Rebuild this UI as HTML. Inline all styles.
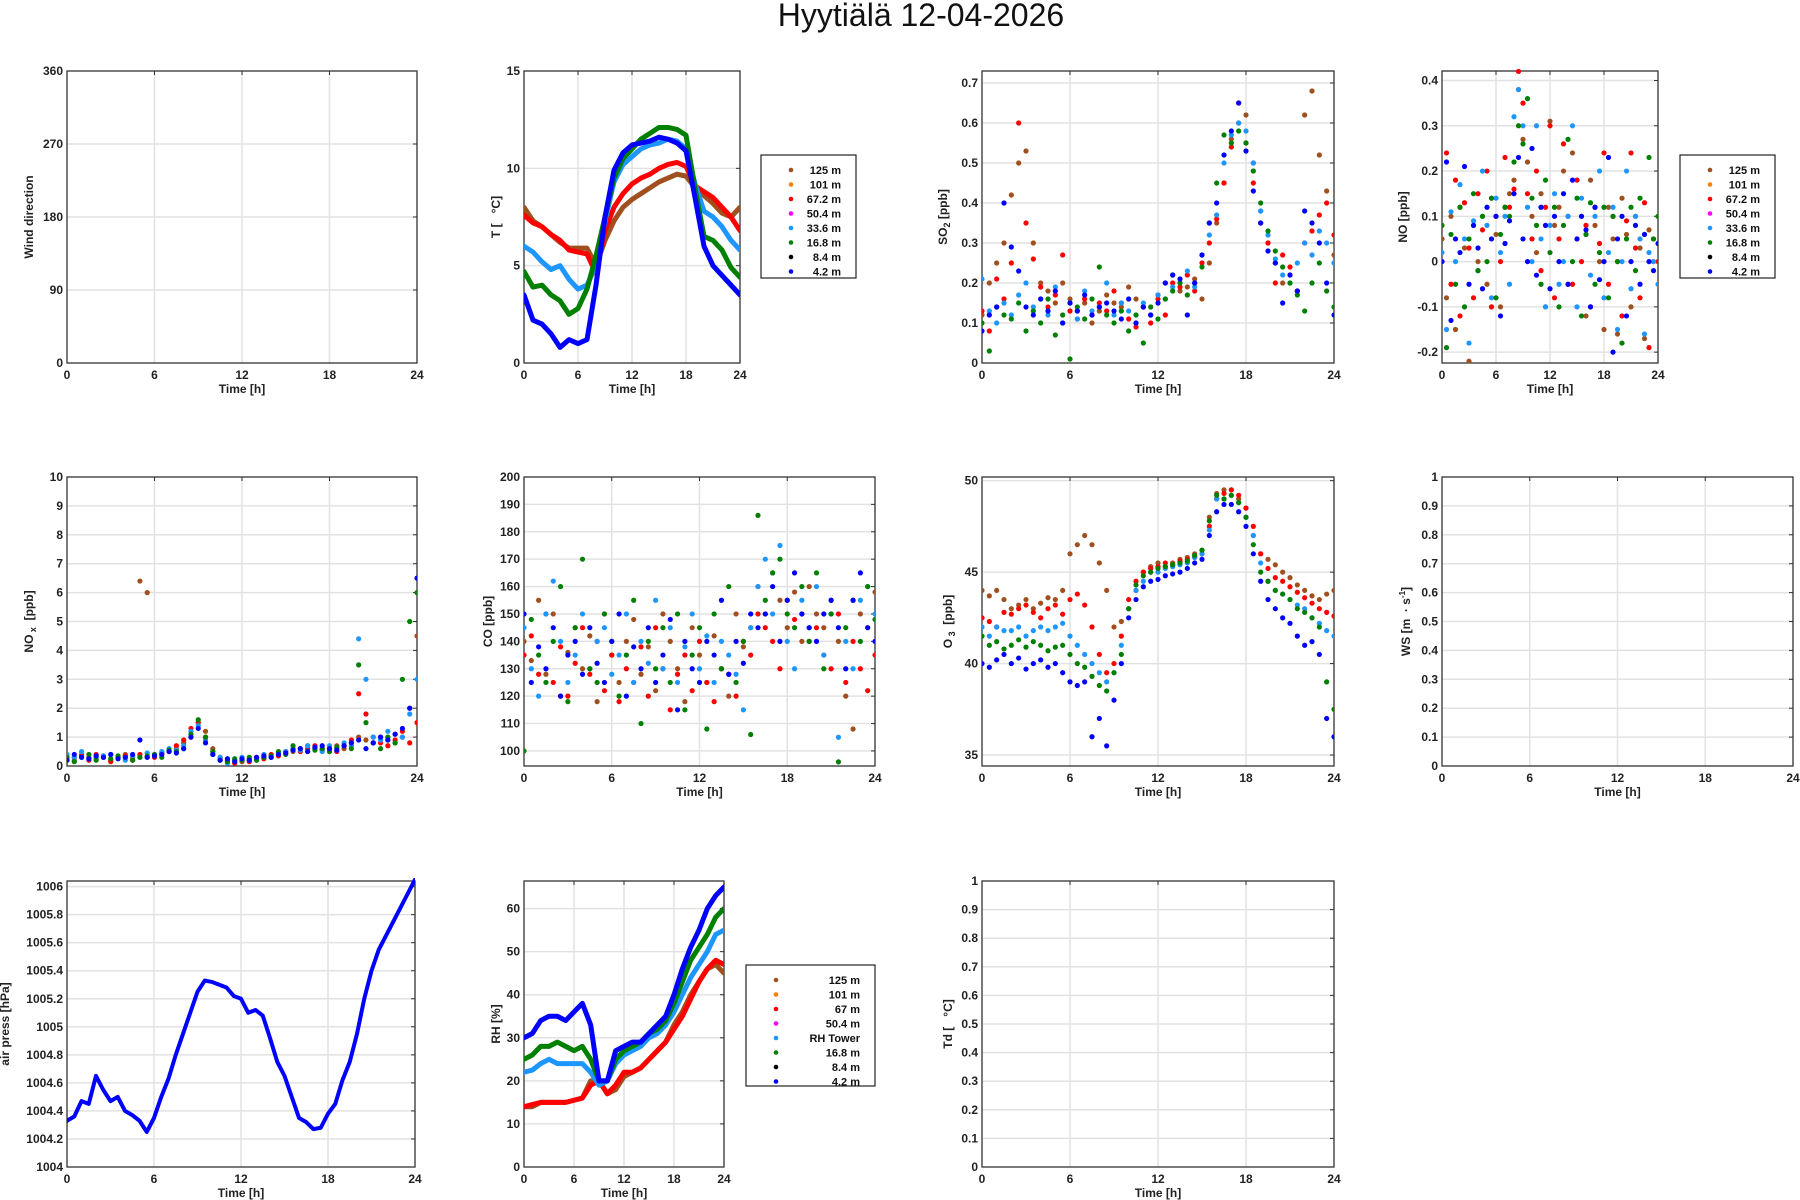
<!DOCTYPE html>
<html><head><meta charset="utf-8">
<style>
body{margin:0;background:#fff;}
svg{display:block;font-family:"Liberation Sans",Arial,sans-serif;}
.tk{font-size:12px;font-weight:bold;fill:#222;}
.lb{font-size:12px;font-weight:bold;fill:#222;}
.lg{font-size:11px;font-weight:bold;fill:#111;}
</style></head>
<body>
<svg id="chart" width="1800" height="1200" viewBox="0 0 1800 1200">
<text x="921" y="26" text-anchor="middle" font-size="32" fill="#111">Hyytiälä 12-04-2026</text>
</svg>
<script>
const hours=[0,6,12,18,24];
const C={b125:'#a0501e',o101:'#ff8000',r67:'#ff0000',m50:'#ff00ff',lb33:'#1e96ff',g16:'#008000',k8:'#000000',bl4:'#0000ff'};
// Temperature (hourly)
const tBrown=[8,7.3,7,6.6,6.2,5.9,5.9,5.9,5.0,6.3,7.3,8,8.4,8.7,9,9.3,9.5,9.7,9.6,9,8.6,8.2,7.7,7.5,8];
const tRed=[7.6,7.2,7,6.6,6.3,5.8,5.7,5.6,4.6,6.8,8,8.7,9.2,9.5,9.7,10,10.2,10.3,10.1,9.1,8.8,8.5,8.0,7.5,6.8];
const tLblue=[6,5.7,5.2,4.8,5.0,4.3,3.8,4.0,5.0,7.3,9.3,10.2,10.6,11,11.2,11.3,11.5,11.4,11,9.2,7.8,7.5,7.0,6.3,5.8];
const tGreen=[4.7,3.9,4.0,3.5,3.2,2.5,2.8,3.8,5.5,7.5,9.5,10.5,11,11.5,11.8,12.1,12.1,12.0,11.7,9,6.5,6.3,5.8,4.9,4.4];
const tBlue=[3.5,2.2,2.0,1.5,0.8,1.2,1.0,1.2,4,7.5,9.9,10.8,11.2,11.3,11.4,11.6,11.5,11.3,10.9,8.5,6,5.0,4.5,4.0,3.5];
// RH (hourly)
const rhBrown=[14,14,15,15,15,15,15.5,16,20,20,17,18,21,22,23,25,27,29,33,36,40,43,46,47,45];
const rhRed=[14,14.5,15,15,15,15,15.5,16,19,20,17,19,22,22,23,25,27,29,32,35,39,43,46,48,47];
const rhLblue=[22,22.5,24,25,24,24,24,24,22,19,20,24,26,27,28,30,31,33,36,40,44,47,50,54,55];
const rhGreen=[25,26,28,28,29,28,27,28,25,20,20,25,27,28,29,31,32,34,38,43,48,51,54,58,60];
const rhBlue=[30,31,34,35,35,34,36,38,33,20,20,27,28,29,29,31,33,35,40,46,51,55,60,63,65];
// Pressure (half-hourly)
const pres=[1004.33,1004.36,1004.47,1004.45,1004.65,1004.55,1004.47,1004.50,1004.40,1004.37,1004.33,1004.25,1004.35,1004.50,1004.63,1004.8,1004.95,1005.10,1005.25,1005.33,1005.32,1005.30,1005.28,1005.22,1005.20,1005.10,1005.12,1005.08,1004.92,1004.75,1004.65,1004.5,1004.35,1004.32,1004.27,1004.28,1004.38,1004.45,1004.62,1004.75,1004.95,1005.2,1005.4,1005.55,1005.65,1005.75,1005.85,1005.95,1006.05];
// SO2 (half-hourly)
const so2Brown=[0.12,0.2,0.25,0.3,0.42,0.5,0.53,0.3,0.2,0.18,0.15,0.2,0.16,0.13,0.15,0.1,0.13,0.17,0.15,0.14,0.19,0.16,0.14,0.12,0.17,0.2,0.22,0.18,0.19,0.21,0.16,0.25,0.35,0.45,0.56,0.6,0.62,0.5,0.38,0.3,0.25,0.2,0.22,0.18,0.62,0.68,0.52,0.43,0.27];
const so2Red=[0.13,0.08,0.21,0.16,0.25,0.6,0.35,0.26,0.19,0.14,0.17,0.27,0.13,0.11,0.16,0.12,0.15,0.13,0.18,0.15,0.11,0.09,0.14,0.1,0.16,0.12,0.2,0.19,0.22,0.18,0.25,0.3,0.36,0.45,0.54,0.65,0.55,0.45,0.35,0.3,0.2,0.27,0.24,0.18,0.3,0.33,0.37,0.4,0.32];
const so2Lblue=[0.21,0.13,0.1,0.15,0.12,0.17,0.2,0.14,0.16,0.12,0.19,0.1,0.15,0.11,0.18,0.13,0.14,0.2,0.12,0.15,0.13,0.1,0.15,0.12,0.17,0.16,0.19,0.2,0.23,0.19,0.27,0.32,0.37,0.5,0.57,0.6,0.58,0.5,0.38,0.32,0.26,0.22,0.2,0.25,0.3,0.27,0.33,0.3,0.25];
const so2Green=[0.1,0.03,0.14,0.12,0.11,0.15,0.08,0.13,0.1,0.16,0.07,0.12,0.01,0.14,0.11,0.16,0.24,0.12,0.1,0.13,0.08,0.12,0.05,0.14,0.11,0.16,0.18,0.2,0.17,0.2,0.24,0.35,0.45,0.57,0.55,0.58,0.55,0.48,0.4,0.33,0.28,0.24,0.2,0.17,0.13,0.2,0.25,0.18,0.14];
const so2Blue=[0.08,0.12,0.14,0.4,0.29,0.23,0.14,0.12,0.16,0.13,0.18,0.1,0.15,0.13,0.17,0.12,0.14,0.15,0.13,0.11,0.16,0.1,0.14,0.12,0.15,0.2,0.22,0.21,0.12,0.2,0.27,0.35,0.4,0.52,0.58,0.65,0.53,0.43,0.35,0.28,0.25,0.15,0.22,0.18,0.38,0.35,0.3,0.2,0.12];
// NO (half-hourly)
const noBrown=[0.05,-0.08,0.1,-0.15,0.12,0.03,-0.22,0.08,0.0,0.1,-0.05,0.14,0.06,-0.1,0.12,0.15,0.18,0.38,0.27,0.22,0.1,0.02,0.15,-0.1,0.31,0.08,0.12,0.2,-0.05,0.24,0.05,0.1,-0.12,0.18,0.08,0.0,-0.15,0.12,0.05,-0.16,0.14,0.06,-0.1,0.1,0.03,-0.17,0.07,0.0,0.1];
const noRed=[0.0,0.24,-0.05,0.18,-0.12,0.13,0.03,-0.08,0.15,0.07,0.2,-0.1,0.1,0.0,0.23,0.12,0.16,0.42,0.35,0.15,0.05,0.2,-0.02,0.12,0.3,-0.08,0.05,0.26,0.1,-0.05,0.18,0.0,0.08,-0.1,0.12,0.04,0.24,-0.05,0.1,0.0,-0.12,0.09,0.24,0.03,-0.08,0.13,-0.19,0.05,0.0];
const noLblue=[0.02,-0.15,0.11,0.0,0.17,0.05,-0.18,0.09,-0.02,0.2,0.08,-0.08,0.14,0.02,0.1,-0.05,0.32,0.38,0.3,0.12,0.0,0.3,0.05,-0.1,0.08,0.15,-0.05,0.0,0.1,0.3,-0.1,0.14,0.06,-0.03,0.1,0.2,-0.08,0.02,0.12,-0.15,0.0,0.2,-0.06,0.1,0.05,-0.16,0.02,0.0,-0.05];
const noGreen=[0.08,-0.19,0.06,-0.05,0.12,-0.1,0.05,0.15,-0.02,0.1,0.0,0.14,-0.08,0.06,0.12,0.1,0.22,0.3,0.26,0.36,0.14,0.08,-0.05,0.18,0.02,0.12,-0.1,0.08,0.27,0.0,0.14,-0.12,0.06,0.13,-0.05,0.02,0.12,-0.08,0.1,0.0,-0.18,0.05,0.12,-0.02,0.14,0.06,0.23,0.05,0.1];
const noBlue=[0.0,0.22,-0.13,0.05,0.02,0.21,-0.05,0.08,0.03,-0.06,0.12,0.05,0.1,-0.12,0.04,0.09,0.15,0.23,0.05,0.0,0.25,-0.03,0.12,0.08,-0.06,0.1,0.0,0.15,-0.05,0.18,0.05,0.1,0.07,-0.1,0.12,-0.04,0.0,0.23,-0.2,0.05,0.1,-0.12,0.0,0.08,-0.05,0.06,0.0,-0.02,0.04];
// NOx (half-hourly)
const noxBrown=[0.3,0.2,0.4,0.3,0.25,0.35,0.2,0.3,0.4,0.3,6.4,6.0,0.35,0.4,0.5,0.6,0.8,1.0,1.5,1.2,0.6,0.3,0.2,0.2,0.15,0.25,0.2,0.3,0.3,0.4,0.5,0.5,0.6,0.7,0.6,0.6,0.5,0.7,0.6,0.8,1.0,0.9,0.8,1.0,0.9,1.1,1.0,2.0,4.5];
const noxRed=[0.2,0.3,0.35,0.2,0.4,0.3,0.15,0.3,0.35,0.2,0.4,0.3,0.3,0.45,0.5,0.7,0.9,1.3,1.5,1.0,0.5,0.25,0.2,0.1,0.2,0.15,0.3,0.25,0.4,0.35,0.5,0.6,0.5,0.6,0.7,0.55,0.6,0.5,0.7,0.9,2.5,1.8,1.0,0.8,0.7,0.9,1.2,0.8,1.5];
const noxLblue=[0.4,0.3,0.5,0.25,0.3,0.35,0.4,0.3,0.2,0.35,0.3,0.45,0.4,0.5,0.6,0.55,0.7,1.2,1.4,0.9,0.4,0.3,0.1,0.2,0.3,0.2,0.25,0.4,0.3,0.45,0.5,0.6,0.55,0.7,0.6,0.5,0.7,0.6,0.8,0.7,4.4,3.0,1.0,0.9,1.2,0.8,1.0,1.8,3.0];
const noxGreen=[0.3,0.15,0.3,0.4,0.2,0.3,0.25,0.35,0.3,0.2,0.3,0.35,0.4,0.3,0.55,0.5,0.6,1.1,1.6,1.0,0.5,0.2,0.15,0.25,0.2,0.3,0.2,0.3,0.35,0.5,0.4,0.7,0.6,0.5,0.55,0.6,0.5,0.65,0.7,0.6,3.5,1.5,0.8,0.6,1.0,0.8,3.0,5.0,6.0];
const noxBlue=[0.2,0.4,0.3,0.25,0.35,0.3,0.4,0.25,0.3,0.4,0.9,0.3,0.35,0.4,0.5,0.45,0.6,1.0,1.3,0.8,0.4,0.2,0.25,0.15,0.25,0.2,0.3,0.35,0.3,0.4,0.45,0.55,0.6,0.5,0.65,0.7,0.6,0.55,0.7,0.8,0.9,0.6,0.8,1.0,0.9,1.1,1.3,2.0,6.5];
// CO (half-hourly)
const coBrown=[140,133,155,128,150,120,136,145,130,142,118,150,135,125,140,148,128,138,122,150,140,130,118,145,135,125,142,130,120,150,138,145,160,150,165,155,145,158,140,160,150,145,155,140,120,108,150,145,158];
const coRed=[135,142,128,150,125,138,120,132,145,128,140,122,135,118,130,125,138,120,145,130,115,128,135,122,140,125,118,130,128,120,140,135,150,145,140,130,155,148,150,140,145,135,130,150,125,140,130,122,135];
const coLblue=[145,130,120,150,162,140,125,135,150,130,140,145,128,135,150,125,140,132,155,130,145,125,138,150,130,142,125,140,135,128,115,145,160,170,150,175,140,130,155,145,160,135,150,105,140,130,155,160,150];
const coGreen=[100,148,135,125,140,160,118,145,170,130,125,150,140,120,135,155,110,140,130,145,125,150,115,135,145,108,150,130,160,125,140,106,186,155,165,170,150,145,160,140,165,130,150,96,145,155,140,160,148];
const coBlue=[150,125,138,130,145,120,135,140,128,145,132,125,140,150,120,138,130,145,125,135,148,115,140,130,125,140,135,155,128,140,132,150,145,150,160,140,155,165,150,145,140,150,155,145,130,155,165,145,140];
// O3 (half-hourly)
const o3Brown=[44,43.7,44,43.5,43,43.2,43.5,43,43.3,43.6,43.5,44,46,46.5,47,46.5,45.5,44,42,42.3,43,44,45,45.3,45.5,45.3,45.5,45.7,45.8,46,46.2,48,49.3,49.5,49.5,49,48.5,47,46,45.7,45.4,45,44.7,44.3,44,43.7,43.5,43.8,44];
const o3Red=[42.5,42.3,42,42.8,42.7,43,43.2,42.8,42.5,43,43.2,42.7,43.5,43.8,43.2,42,40.5,39.5,40,41.5,43.5,44.5,45,45.2,45.3,45.5,45.4,45.6,45.7,45.8,46,47.5,49,49.3,49.5,49.2,48.5,47.5,46,45.2,44.7,44.5,44.2,43.9,43.6,43.3,43,42.8,42.6];
const o3Lblue=[42,41.5,42,41.8,41.8,42,41.5,41.8,42,41.8,42,42.2,41.5,41,40.5,40,39.5,39,39.5,41,43,44,44.5,45,45,45.2,45.3,45.4,45.5,45.8,46,47.3,49,49,49.2,48.8,48,47,45.5,44.5,44,43.8,43.5,43.2,43,42.5,42.2,41.8,41.5];
const o3Green=[41.5,41,41.2,40.8,41,41.3,40.9,41.2,41,40.7,40.9,41,40.5,40,39.8,39.3,38.8,38.5,39.5,40.5,43,44.3,44.8,45,45.2,45.3,45.4,45.5,45.6,45.9,46.2,47.8,49.2,49,49.2,48.8,48,46.5,45,44.5,44,43.8,43.5,43,42.8,42.5,42,39,37.5];
const o3Blue=[40,39.8,40.2,40.5,40,40.3,39.7,40,40.2,39.8,40,39.5,39,38.8,39,36,37,35.5,38,40,42.5,43.5,44.2,44.5,44.6,44.8,44.9,45,45.2,45.5,45.7,47,48.3,48.7,48.7,48.3,47.5,46,44.5,43.5,43,42.5,42.2,41.5,41,41.2,40.5,37,36];
const legendA=['125 m','101 m','67.2 m','50.4 m','33.6 m','16.8 m','8.4 m','4.2 m'];
const legendB=['125 m','101 m','67 m','50.4 m','RH Tower','16.8 m','8.4 m','4.2 m'];
const legendColors=[C.b125,C.o101,C.r67,C.m50,C.lb33,C.g16,C.k8,C.bl4];

const NS='http://www.w3.org/2000/svg';
const svg=document.getElementById('chart');
function mk(tag,attrs,parent){const e=document.createElementNS(NS,tag);for(const k in attrs)e.setAttribute(k,attrs[k]);(parent||svg).appendChild(e);return e;}

function axes(p){
  const g=mk('g',{});
  
  
  p.sx=t=>p.l+(t/24)*(p.r-p.l);
  p.sy=v=>p.b-(v-p.ymin)/(p.ymax-p.ymin)*(p.b-p.t);
  mk('rect',{x:p.l,y:p.t,width:p.r-p.l,height:p.b-p.t,fill:'#fff'},g);
  hours.forEach(h=>{const x=p.sx(h);
    if(h>0&&h<24)mk('line',{x1:x,x2:x,y1:p.t,y2:p.b,stroke:'#e2e2e2','stroke-width':1.5},g);
    const tx=mk('text',{x:x,y:p.b+16,'text-anchor':'middle',class:'tk'},g);tx.textContent=h;
    
    
  });
  p.yt.forEach(v=>{const y=p.sy(v);
    if(y>p.t+1&&y<p.b-1)mk('line',{x1:p.l,x2:p.r,y1:y,y2:y,stroke:'#e2e2e2','stroke-width':1.5},g);
    mk('line',{x1:p.r,x2:p.r-4,y1:y,y2:y,stroke:'#333'},g);
    const tx=mk('text',{x:p.l-4,y:y+4,'text-anchor':'end',class:'tk'},g);tx.textContent=(p.fmt?p.fmt(v):v);
    
    
  });
  hours.forEach(h=>mk('line',{x1:p.sx(h),x2:p.sx(h),y1:p.t,y2:p.t+4,stroke:'#333'},g));
  mk('rect',{x:p.l,y:p.t,width:p.r-p.l,height:p.b-p.t,fill:'none',stroke:'#333','stroke-width':1.3},g);
  const xl=mk('text',{x:(p.l+p.r)/2,y:p.b+30,'text-anchor':'middle',class:'lb'},g);xl.textContent='Time [h]';
  
  
  const yl=mk('text',{x:0,y:0,'text-anchor':'middle',class:'lb',transform:`translate(${p.lx},${(p.t+p.b)/2}) rotate(-90)`},g);
  yl.innerHTML=p.ylab;
  
  
  p.g=g;
  p.clip='c'+p.name;
  const cp=mk('clipPath',{id:p.clip},g);mk('rect',{x:p.l,y:p.t-3,width:p.r-p.l,height:p.b-p.t+3},cp);
  return p;
}
function dots(p,arr,color,nm){
  const g=mk('g',{'clip-path':`url(#${p.clip})`},p.g);
  
  
  arr.forEach((v,i)=>{const t=i*24/(arr.length-1);
    const c=mk('circle',{cx:p.sx(t),cy:p.sy(v),r:2.6,fill:color},g);
    
    
  });
}
function thick(p,arr,color,nm,w){
  const pts=arr.map((v,i)=>p.sx(i*24/(arr.length-1))+','+p.sy(v)).join(' ');
  const pl=mk('polyline',{points:pts,fill:'none',stroke:color,'stroke-width':w||5,'stroke-linejoin':'round','stroke-linecap':'round','clip-path':`url(#${p.clip})`},p.g);
  
  
}
function legend(x,y,w,h,labels,nm){
  const g=mk('g',{});
  
  
  mk('rect',{x:x,y:y,width:w,height:h,fill:'#fff',stroke:'#222','stroke-width':1.2},g);
  labels.forEach((s,i)=>{const yy=y+15+i*14.5;
    const c=mk('circle',{cx:x+30,cy:yy,r:2.3,fill:legendColors[i]},g);
    const t=mk('text',{x:x+w-15,y:yy+4,'text-anchor':'end',class:'lg'},g);t.textContent=s;
    
    
  });
}
const R1=[71,363],R2=[477,766],R3=[881,1167];
const seq=(a,b,s)=>{const r=[];for(let v=a;v<=b+1e-9;v+=s)r.push(+v.toFixed(4));return r;};

axes({name:'wind-direction-plot',l:67,r:417,t:R1[0],b:R1[1],ymin:0,ymax:360,yt:[0,90,180,270,360],lx:33,ylab:'Wind direction'});
const pT=axes({name:'temperature-plot',l:524,r:740,t:R1[0],b:R1[1],ymin:0,ymax:15,yt:[0,5,10,15],lx:500,ylab:'T [ &#160;&#160;°C]'});
thick(pT,tBrown,C.b125,'t-125m');thick(pT,tRed,C.r67,'t-67m');thick(pT,tLblue,C.lb33,'t-33m');thick(pT,tGreen,C.g16,'t-16m');thick(pT,tBlue,C.bl4,'t-4m');
legend(761,155,95,123,legendA,'temperature-legend');
const pS=axes({name:'so2-plot',l:982,r:1334,t:R1[0],b:R1[1],ymin:0,ymax:0.73,yt:seq(0,0.7,0.1),lx:947,ylab:'SO<tspan font-size="9" dy="3">2</tspan><tspan dy="-3"> [ppb]</tspan>'});
dots(pS,so2Brown,C.b125,'so2-125m');dots(pS,so2Red,C.r67,'so2-67m');dots(pS,so2Lblue,C.lb33,'so2-33m');dots(pS,so2Green,C.g16,'so2-16m');dots(pS,so2Blue,C.bl4,'so2-4m');
const pN=axes({name:'no-plot',l:1442,r:1658,t:R1[0],b:R1[1],ymin:-0.224,ymax:0.421,yt:[-0.2,-0.1,0,0.1,0.2,0.3,0.4],lx:1407,ylab:'NO [ppb]'});
dots(pN,noBrown,C.b125,'no-125m');dots(pN,noRed,C.r67,'no-67m');dots(pN,noLblue,C.lb33,'no-33m');dots(pN,noGreen,C.g16,'no-16m');dots(pN,noBlue,C.bl4,'no-4m');
legend(1680,155,95,123,legendA,'no-legend');

const pX=axes({name:'nox-plot',l:67,r:417,t:R2[0],b:R2[1],ymin:0,ymax:10,yt:seq(0,10,1),lx:33,ylab:'NO<tspan font-size="9" dy="3"> x</tspan><tspan dy="-3"> &#160;[ppb]</tspan>'});
dots(pX,noxBrown,C.b125,'nox-125m');dots(pX,noxRed,C.r67,'nox-67m');dots(pX,noxLblue,C.lb33,'nox-33m');dots(pX,noxGreen,C.g16,'nox-16m');dots(pX,noxBlue,C.bl4,'nox-4m');
const pC=axes({name:'co-plot',l:524,r:875,t:R2[0],b:R2[1],ymin:94.5,ymax:200,yt:seq(100,200,10),lx:492,ylab:'CO [ppb]'});
dots(pC,coBrown,C.b125,'co-125m');dots(pC,coRed,C.r67,'co-67m');dots(pC,coLblue,C.lb33,'co-33m');dots(pC,coGreen,C.g16,'co-16m');dots(pC,coBlue,C.bl4,'co-4m');
const pO=axes({name:'o3-plot',l:982,r:1334,t:R2[0],b:R2[1],ymin:34.4,ymax:50.2,yt:[35,40,45,50],lx:952,ylab:'O<tspan font-size="9" dy="3"> 3</tspan><tspan dy="-3"> &#160;[ppb]</tspan>'});
dots(pO,o3Brown,C.b125,'o3-125m');dots(pO,o3Red,C.r67,'o3-67m');dots(pO,o3Lblue,C.lb33,'o3-33m');dots(pO,o3Green,C.g16,'o3-16m');dots(pO,o3Blue,C.bl4,'o3-4m');
axes({name:'wind-speed-plot',l:1442,r:1793,t:R2[0],b:R2[1],ymin:0,ymax:1,yt:seq(0,1,0.1),lx:1410,ylab:'WS [m &#160;· s<tspan font-size="8" dy="-5">-1</tspan><tspan dy="5">]</tspan>'});

const pP=axes({name:'air-pressure-plot',l:67,r:415,t:R3[0],b:R3[1],ymin:1004,ymax:1006.04,yt:seq(1004,1006,0.2),fmt:v=>(Math.abs(v-Math.round(v))<1e-6?Math.round(v):v.toFixed(1)),lx:9,ylab:'air press [hPa]'});
thick(pP,pres,C.bl4,'air-pressure-line',4);
const pR=axes({name:'rh-plot',l:524,r:724,t:R3[0],b:R3[1],ymin:0,ymax:66.4,yt:[0,10,20,30,40,50,60],lx:500,ylab:'RH [%]'});
thick(pR,rhBrown,C.b125,'rh-125m');thick(pR,rhRed,C.r67,'rh-67m');thick(pR,rhLblue,C.lb33,'rh-tower');thick(pR,rhGreen,C.g16,'rh-16m');thick(pR,rhBlue,C.bl4,'rh-4m');
legend(746,965,129,121,legendB,'rh-legend');
axes({name:'dew-point-plot',l:982,r:1334,t:R3[0],b:R3[1],ymin:0,ymax:1,yt:seq(0,1,0.1),lx:952,ylab:'Td [ &#160;&#160;°C]'});
</script>
</body></html>
